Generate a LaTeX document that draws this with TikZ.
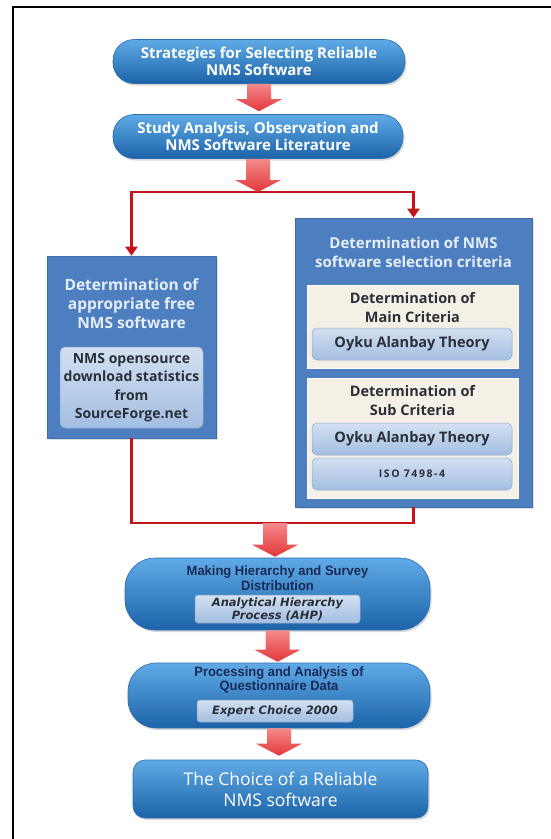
\documentclass[tikz,border=0pt]{standalone}
\usepackage{fontspec}
\setmainfont{Open Sans}
\newfontfamily\narrowfont[FakeStretch=0.96]{Liberation Sans}
\newfontfamily\widefont{DejaVu Sans}
\usetikzlibrary{shadows,calc,arrows.meta}
\definecolor{pillA}{HTML}{5FAAE6}
\definecolor{pillB}{HTML}{1C63A8}
\definecolor{pillD}{HTML}{2B6DB0}
\definecolor{boxblue}{HTML}{4D7EBF}
\definecolor{boxedge}{HTML}{3E6DAA}
\definecolor{cream}{HTML}{F5F0E6}
\definecolor{gradA}{HTML}{D3E0F1}
\definecolor{gradM}{HTML}{F6F9FC}
\definecolor{gradB}{HTML}{A3BEE1}
\definecolor{gradD}{HTML}{8EA9CF}
\definecolor{redline}{HTML}{C3161C}
\definecolor{arrA}{HTML}{F48A8A}
\definecolor{arrB}{HTML}{E4373A}
\definecolor{titlelight}{HTML}{E6EFF9}
\definecolor{darktext}{HTML}{2A2F38}
\definecolor{navytext}{HTML}{1A2A55}
\newcommand\blockarrow[3][3pt]{%
  \shade[top color=arrA, bottom color=arrB] let \p1=(#2), \p2=(#3) in
  (\x1-12pt,\y1) -- (\x1+12pt,\y1) -- (\x1+12pt,\y2+#1+12pt) --
  (\x1+23pt,\y2+#1+12pt) -- (\x1,\y2+#1) -- (\x1-23pt,\y2+#1+12pt) --
  (\x1-12pt,\y2+#1+12pt) -- cycle;}
\tikzset{
  pill/.style={rounded corners=21pt, top color=pillA, bottom color=pillB,
    draw=pillD, line width=0.6pt, text=white, align=center, inner sep=0pt,
    drop shadow={opacity=0.3, shadow xshift=1.5pt, shadow yshift=-2pt}},
  bluebox/.style={fill=boxblue, draw=boxedge, line width=0.6pt, inner sep=0pt,
    drop shadow={opacity=0.25, shadow xshift=1.5pt, shadow yshift=-2pt}},
  creampanel/.style={fill=cream, draw=white, line width=0.8pt, inner sep=0pt},
  gradbox/.style={rounded corners=5pt, top color=gradA, middle color=gradM,
    bottom color=gradB, draw=gradD, line width=0.5pt, inner sep=0pt,
    text=darktext, align=center},
  boxtitle/.style={text=titlelight, align=center, inner sep=0pt},
  paneltext/.style={text=darktext, align=center, inner sep=0pt,
    font=\bfseries\fontsize{14.5}{19}\selectfont},
  pilltitle/.style={text=navytext, align=center, inner sep=0pt,
    font=\narrowfont\bfseries\fontsize{13.5}{14.5}\selectfont},
  ibox/.style={font=\widefont\bfseries\itshape\fontsize{11.5}{13}\selectfont},
  conn/.style={draw=redline, line width=2.4pt},
}
\begin{document}
\begin{tikzpicture}[x=1pt,y=-1pt]
\useasboundingbox (0,0) rectangle (551,839);
\draw[line width=2pt, line cap=rect] (13,839) -- (13,6.5) -- (551,6.5);

% top pills
\node[pill, minimum width=292pt, minimum height=44pt,
  font=\bfseries\fontsize{15}{16.5}\selectfont] (p1) at (259,61.5)
  {Strategies for Selecting Reliable\\NMS Software};
\node[pill, minimum width=290pt, minimum height=44pt,
  font=\bfseries\fontsize{15}{16.5}\selectfont] (p2) at (258,136.5)
  {Study Analysis, Observation and\\NMS Software Literature};
\coordinate (split) at (258,192);
\coordinate (join) at (275,523);

% side boxes
\node[bluebox, minimum width=169pt, minimum height=182pt] (L) at (131.5,347) {};
\node[boxtitle, font=\bfseries\fontsize{15.5}{19}\selectfont] (Lt) at (131.5,304)
  {Determination of\\appropriate free\\NMS software};
\node[gradbox, minimum width=143pt, minimum height=81pt,
  font=\bfseries\fontsize{14}{18.5}\selectfont] (LI) at (131.5,387.5)
  {NMS opensource\\download statistics\\from\\SourceForge.net};

\node[bluebox, minimum width=237pt, minimum height=289pt] (R) at (413.5,362.5) {};
\node[boxtitle, font=\bfseries\fontsize{15}{19}\selectfont] (Rt) at (413.5,252.5)
  {Determination of NMS\\software selection criteria};
\node[creampanel, minimum width=211pt, minimum height=83pt] (RP1) at (412.5,326.5) {};
\node[paneltext] (RP1t) at (412.5,307.5) {Determination of\\Main Criteria};
\node[gradbox, minimum width=200pt, minimum height=32pt,
  font=\bfseries\fontsize{14.5}{16}\selectfont] (OA1) at (412,344) {Oyku Alanbay Theory};
\node[creampanel, minimum width=211pt, minimum height=120pt] (RP2) at (412.5,438) {};
\node[paneltext] (RP2t) at (412.5,401) {Determination of\\Sub Criteria};
\node[gradbox, minimum width=200pt, minimum height=32pt,
  font=\bfseries\fontsize{14.5}{16}\selectfont] (OA2) at (412,439) {Oyku Alanbay Theory};
\node[gradbox, minimum width=200pt, minimum height=32pt,
  font=\bfseries\fontsize{10.5}{12}\selectfont\addfontfeatures{LetterSpace=15}] (ISO) at (412,474) {ISO 7498-4};

% red connector
\draw[conn, -{Triangle[length=9pt,width=12pt]}] (split) -| (L.north);
\draw[conn, -{Triangle[length=9pt,width=12pt]}] (split) -| (R.north);
\draw[conn] (L.south) |- (join) -| (R.south);

% block arrows
\blockarrow{p1.south}{p2.north}
\blockarrow[0pt]{p2.south}{split}

% lower pills
\node[pill, rounded corners=30pt, minimum width=305pt, minimum height=72pt] (p3) at (277.5,594) {};
\node[pilltitle] (p3t) at (277.5,578) {Making Hierarchy and Survey\\Distribution};
\node[gradbox, ibox, rounded corners=3pt, minimum width=165pt, minimum height=28pt] (AHP) at (277.5,609)
  {Analytical Hierarchy\\Process (AHP)};
\node[pill, rounded corners=28pt, minimum width=302pt, minimum height=65pt] (p4) at (279,695.5) {};
\node[pilltitle] (p4t) at (279,680) {Processing and Analysis of\\Questionnaire Data};
\node[gradbox, ibox, rounded corners=3pt, minimum width=156pt, minimum height=22pt] (EC) at (275,711)
  {Expert Choice 2000};
\node[pill, rounded corners=12pt, minimum width=295pt, minimum height=58pt,
  font=\fontsize{17.5}{21}\selectfont] (p5) at (280.5,789)
  {The Choice of a Reliable\\NMS software};

\blockarrow[1pt]{join}{p3.north}
\blockarrow[1pt]{p3.south}{p4.north}
\blockarrow[4pt]{p4.south}{p5.north}
\end{tikzpicture}
\end{document}
